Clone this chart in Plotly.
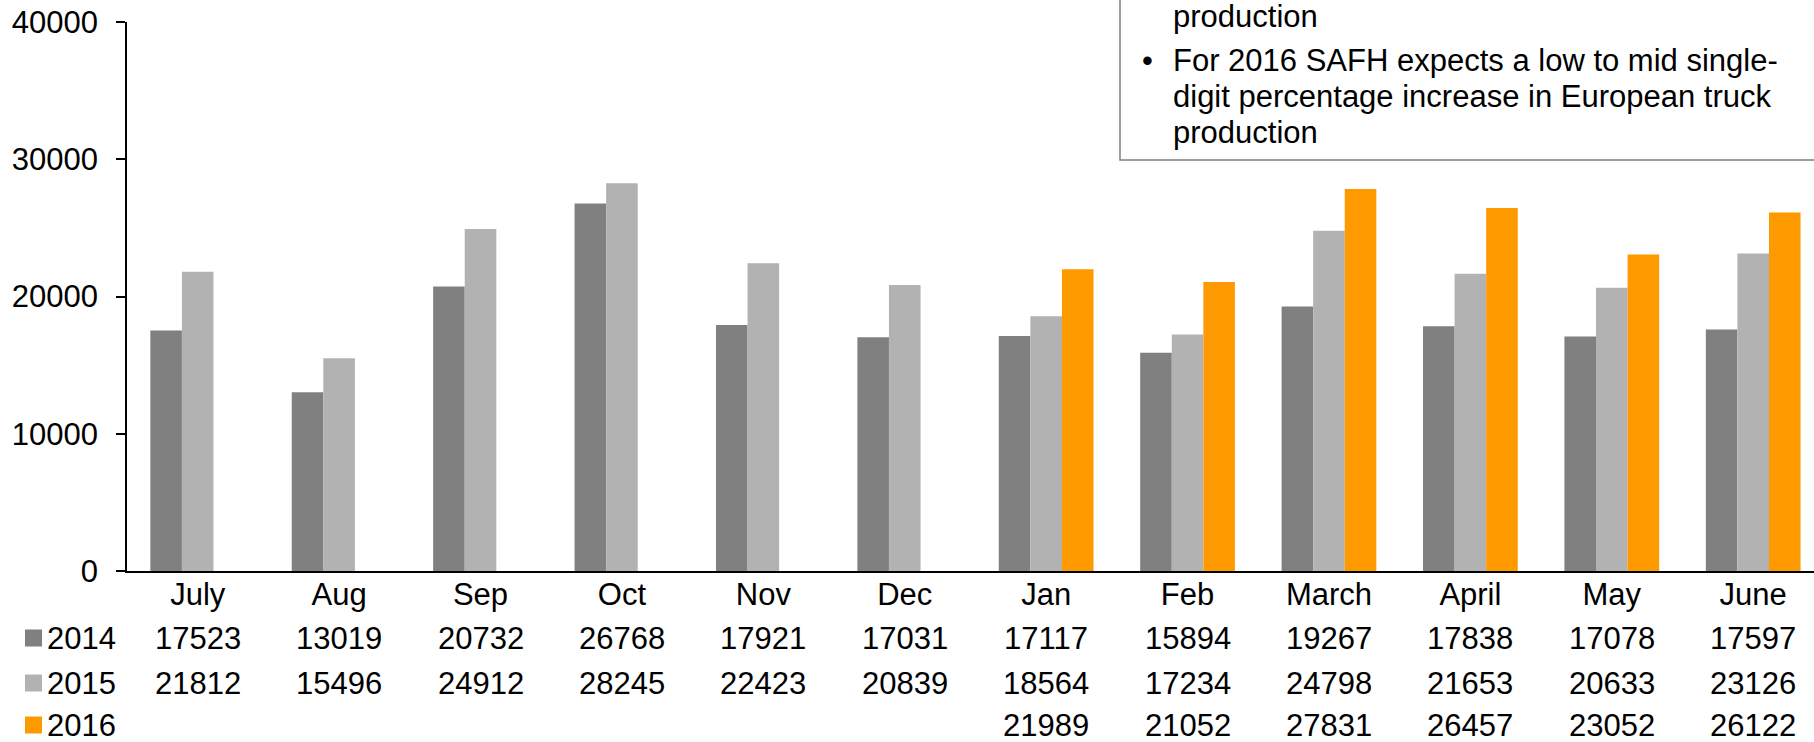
import plotly.graph_objects as go

months = ["July", "Aug", "Sep", "Oct", "Nov", "Dec", "Jan", "Feb", "March", "April", "May", "June"]
years = ["2014", "2015", "2016"]
v2014 = [17523, 13019, 20732, 26768, 17921, 17031, 17117, 15894, 19267, 17838, 17078, 17597]
v2015 = [21812, 15496, 24912, 28245, 22423, 20839, 18564, 17234, 24798, 21653, 20633, 23126]
v2016 = [None, None, None, None, None, None, 21989, 21052, 27831, 26457, 23052, 26122]
colors = ["#808080", "#B2B2B2", "#FF9900"]
note_lines = [
    ("", "production"),
    ("•", "For 2016 SAFH expects a low to mid single-"),
    ("", "digit percentage increase in European truck"),
    ("", "production"),
]

W, H = 1814, 742
L, R, T, B = 127, 0, 22, 171
PW, PH = W - L - R, H - T - B
FONT = "Liberation Sans, Arial, sans-serif"
FS = 31


def px_x(x):
    return (x - L) / PW


def px_y(y):
    return (H - B - y) / PH


fig = go.Figure()
for name, vals, col in zip(years, [v2014, v2015, v2016], colors):
    fig.add_trace(go.Bar(x=months, y=vals, name=name, marker=dict(color=col, line=dict(width=0)),
                         showlegend=False))

annotations = []
shapes = []
rows_y = [638, 683, 725]
for r, (name, vals, col) in enumerate(zip(years, [v2014, v2015, v2016], colors)):
    yc = rows_y[r]
    shapes.append(dict(type="rect", xref="paper", yref="paper",
                       x0=px_x(25), x1=px_x(42), y0=px_y(yc + 8.5), y1=px_y(yc - 8.5),
                       fillcolor=col, line=dict(width=0)))
    annotations.append(dict(text=name, xref="paper", yref="paper", x=px_x(45), y=px_y(yc),
                            xanchor="left", yanchor="middle", showarrow=False,
                            font=dict(family=FONT, size=FS, color="#000")))
    for m, v in zip(months, vals):
        if v is None:
            continue
        annotations.append(dict(text=str(v), x=m, xref="x", yref="paper", y=px_y(yc),
                                xanchor="center", yanchor="middle", showarrow=False,
                                font=dict(family=FONT, size=FS, color="#000")))

# note box
shapes.append(dict(type="rect", xref="paper", yref="paper",
                   x0=px_x(1120), x1=px_x(1830), y0=px_y(160), y1=px_y(-20),
                   fillcolor="white", line=dict(color="#7F7F7F", width=1.5), layer="above"))
note_y = [17, 60, 96, 132]
for (bullet, txt), yc in zip(note_lines, note_y):
    if bullet:
        annotations.append(dict(text=bullet, xref="paper", yref="paper", x=px_x(1140), y=px_y(yc),
                                xanchor="left", yanchor="middle", showarrow=False,
                                font=dict(family=FONT, size=FS, color="#000")))
    annotations.append(dict(text=txt, xref="paper", yref="paper", x=px_x(1171), y=px_y(yc),
                            xanchor="left", yanchor="middle", showarrow=False,
                            font=dict(family=FONT, size=FS, color="#000")))

fig.update_layout(
    width=W, height=H,
    margin=dict(l=L, r=R, t=T, b=B, pad=0),
    paper_bgcolor="white", plot_bgcolor="white",
    barmode="group", bargap=0.33, bargroupgap=0,
    font=dict(family=FONT, size=FS, color="#000"),
    shapes=shapes, annotations=annotations,
)
fig.update_xaxes(type="category", range=[-0.5, 11.43], showgrid=False, zeroline=False,
                 showline=True, linecolor="#000", linewidth=2, ticks="", ticklen=0,
                 tickfont=dict(family=FONT, size=FS, color="#000"), ticklabelstandoff=-5)
fig.update_yaxes(range=[0, 40000], tickvals=[0, 10000, 20000, 30000, 40000], showgrid=False,
                 zeroline=False, showline=True, linecolor="#000", linewidth=1.5,
                 ticks="outside", ticklen=9, tickwidth=1.5, tickcolor="#000",
                 tickfont=dict(family=FONT, size=FS, color="#000"), ticklabelstandoff=12,
                 tickformat="d")

fig.write_html("out.html")
